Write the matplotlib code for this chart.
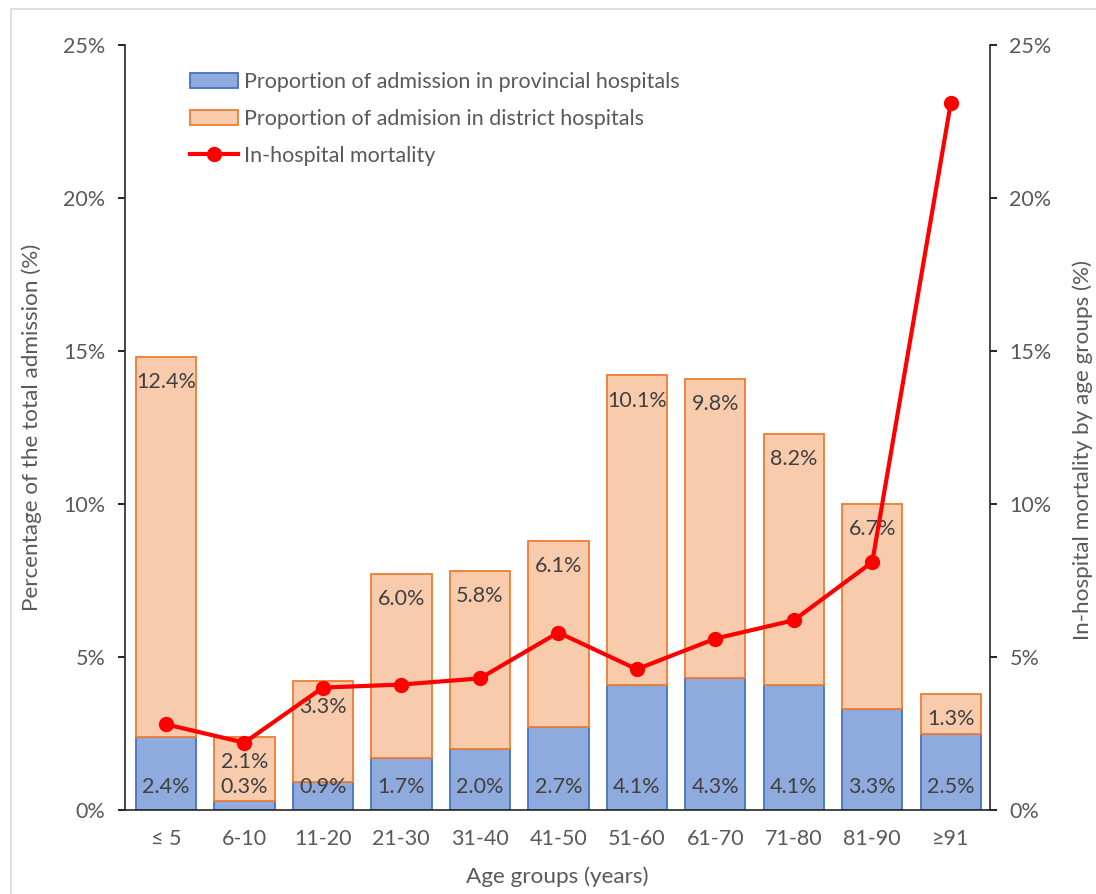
import matplotlib.pyplot as plt
from matplotlib.patches import Rectangle
from matplotlib.lines import Line2D
from matplotlib.ticker import FuncFormatter
import numpy as np

plt.rcParams['font.family'] = ['Lato', 'DejaVu Sans']

# data
age_groups = ['≤ 5', '6-10', '11-20', '21-30', '31-40', '41-50',
              '51-60', '61-70', '71-80', '81-90', '≥91']
provincial = [2.4, 0.3, 0.9, 1.7, 2.0, 2.7, 4.1, 4.3, 4.1, 3.3, 2.5]
district = [12.4, 2.1, 3.3, 6.0, 5.8, 6.1, 10.1, 9.8, 8.2, 6.7, 1.3]
mortality = [2.8, 2.2, 4.0, 4.1, 4.3, 5.8, 4.6, 5.6, 6.2, 8.1, 23.1]

grey = '#595959'
blue_fc, blue_ec = '#8FAADC', '#4472C4'
orange_fc, orange_ec = '#F8CBAD', '#ED7D31'

fig = plt.figure(figsize=(10.96, 8.94), dpi=100)
# thin frame around the chart area
fig.patches.append(Rectangle((11 / 1096, -0.05), 1.1, 1.05 - 9 / 894,
                             transform=fig.transFigure, fill=False,
                             edgecolor='#D9D9D9', linewidth=1.2))

ax = fig.add_axes([125 / 1096, 1 - 810 / 894, 865 / 1096, 765 / 894])
ax2 = ax.twinx()

x = np.arange(len(age_groups))
w = 0.77
ax.bar(x, provincial, w, color=blue_fc, edgecolor=blue_ec, linewidth=1.3)
ax.bar(x, district, w, bottom=provincial, color=orange_fc,
       edgecolor=orange_ec, linewidth=1.3)

for i in range(len(x)):
    ax.text(x[i], 0.75, f'{provincial[i]:.1f}%', ha='center', va='center',
            fontsize=15.5, color='#404040')
    top = provincial[i] + district[i]
    ax.text(x[i], top - 0.82, f'{district[i]:.1f}%', ha='center', va='center',
            fontsize=15.5, color='#404040')

ax2.plot(x, mortality, color='#FF0000', linewidth=3, marker='o',
         markersize=10, zorder=5)

pct = FuncFormatter(lambda v, p: f'{v:.0f}%')
for a in (ax, ax2):
    a.set_ylim(0, 25)
    a.set_yticks(np.arange(0, 26, 5))
    a.yaxis.set_major_formatter(pct)
    a.tick_params(axis='y', labelsize=15.5, labelcolor=grey, length=5,
                  width=1.2, pad=9)
    for s in a.spines.values():
        s.set_visible(False)
ax.set_xlim(-0.52, 10.5)
ax.spines['left'].set_visible(True)
ax.spines['bottom'].set_visible(True)
ax2.spines['right'].set_visible(True)
for s in (ax.spines['left'], ax.spines['bottom'], ax2.spines['right']):
    s.set_linewidth(1.2)
    s.set_color('#262626')

ax.set_xticks(x)
ax.set_xticklabels(age_groups)
ax.tick_params(axis='x', length=0, labelsize=15.5, labelcolor=grey, pad=14)

ax.set_xlabel('Age groups (years)', fontsize=16.2, color=grey, labelpad=12)
ax.set_ylabel('Percentage of the total admission (%)', fontsize=16.2, color=grey)
ax2.set_ylabel('In-hospital mortality by age groups (%)', fontsize=16.2, color=grey)
ax.yaxis.set_label_coords(-0.096, 0.5)
ax2.yaxis.set_label_coords(1.095, 0.47)

handles = [Rectangle((0, 0), 1, 1, facecolor=blue_fc, edgecolor=blue_ec, linewidth=1.3),
           Rectangle((0, 0), 1, 1, facecolor=orange_fc, edgecolor=orange_ec, linewidth=1.3),
           Line2D([], [], color='#FF0000', linewidth=3, marker='o', markersize=10)]
labels = ['Proportion of admission in provincial hospitals',
          'Proportion of admision in district hospitals',
          'In-hospital mortality']
ax2.legend(handles, labels, loc='upper left', bbox_to_anchor=(0.053, 0.99),
           frameon=False, fontsize=15.5, labelcolor=grey, handlelength=2.2,
           handleheight=0.7, handletextpad=0.3, labelspacing=0.78)

fig.savefig('out.png', dpi=100)
